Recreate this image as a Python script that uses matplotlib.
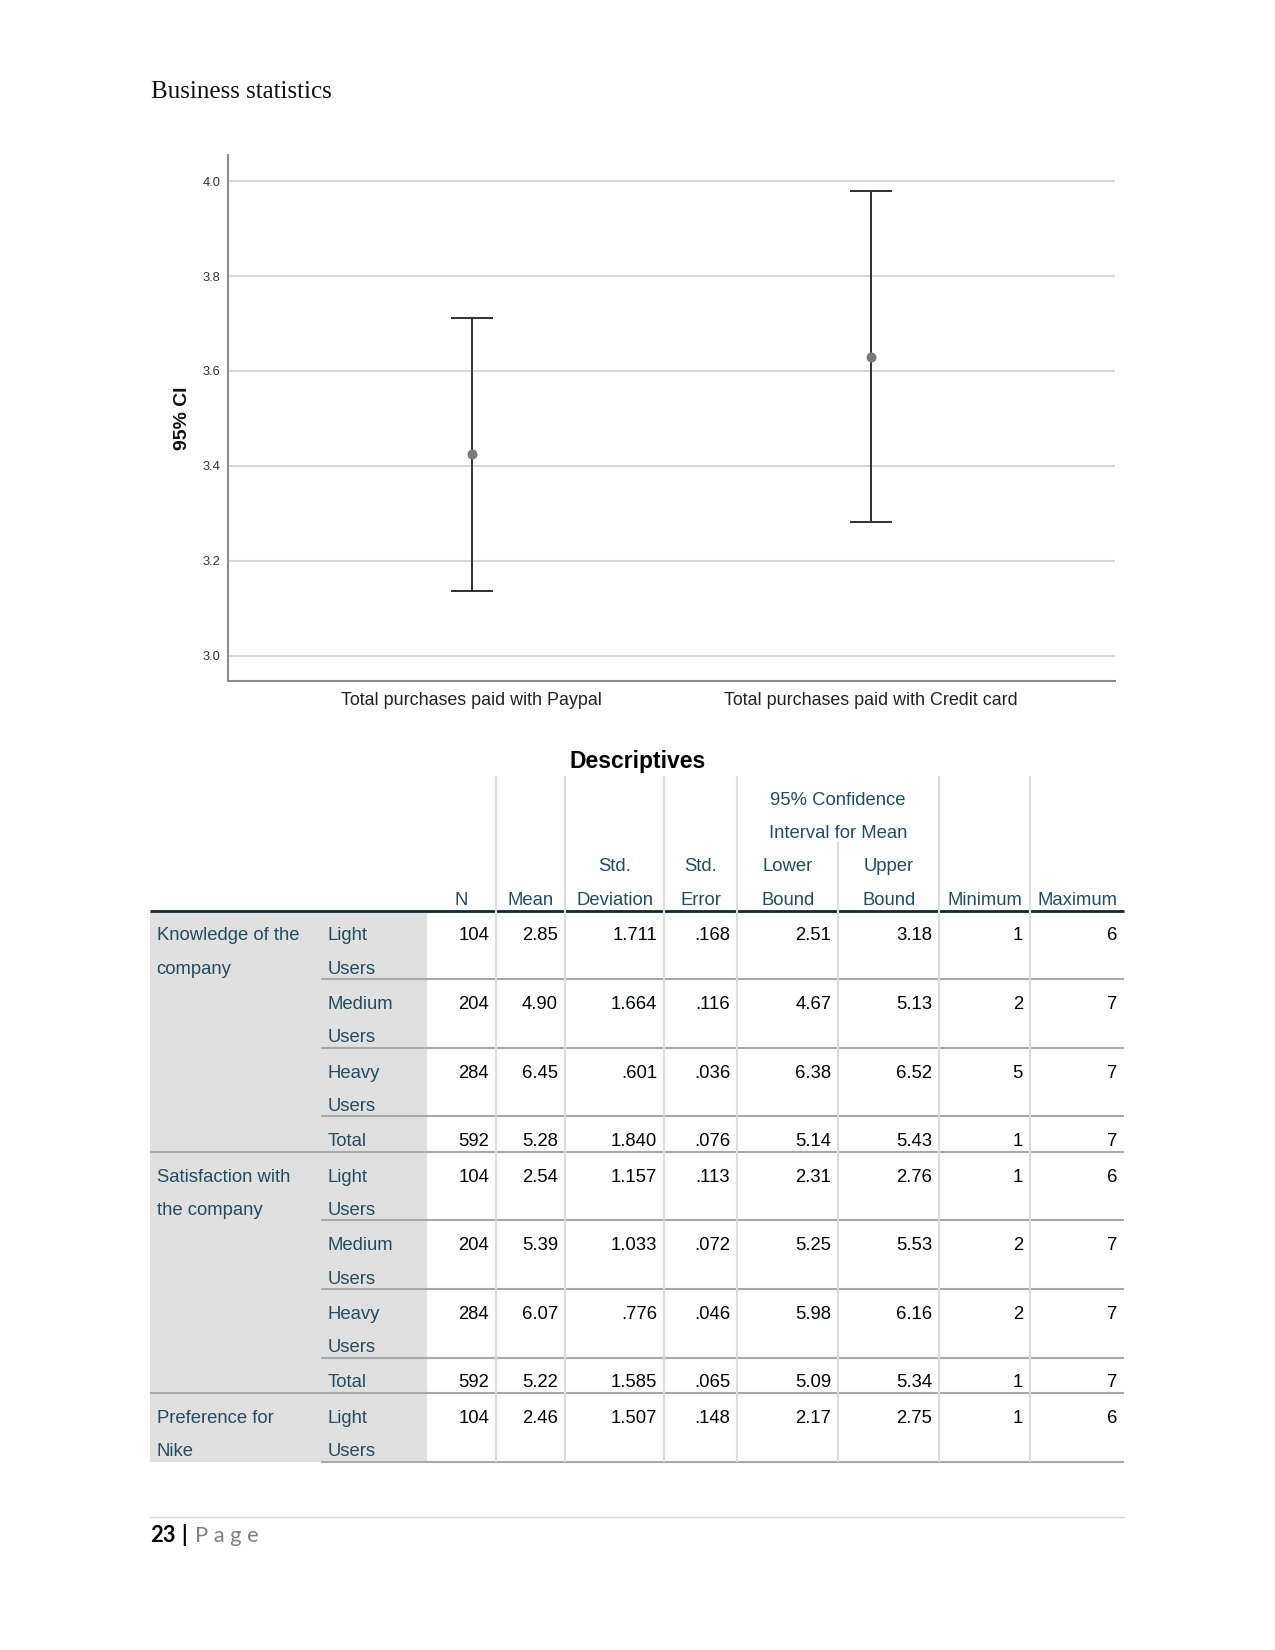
import matplotlib
matplotlib.use("Agg")
import matplotlib.pyplot as plt
from matplotlib.patches import Rectangle

# ---------------- data ----------------
categories = ["Total purchases paid with Paypal", "Total purchases paid with Credit card"]
ci_mean = [3.424, 3.630]
ci_lower = [3.137, 3.281]
ci_upper = [3.711, 3.980]
y_ticks = [3.0, 3.2, 3.4, 3.6, 3.8, 4.0]

measures = ["Knowledge of the\ncompany", "Satisfaction with\nthe company", "Preference for\nNike"]
row_measure = [0, 0, 0, 0, 1, 1, 1, 1, 2]
row_groups = ["Light\nUsers", "Medium\nUsers", "Heavy\nUsers", "Total",
              "Light\nUsers", "Medium\nUsers", "Heavy\nUsers", "Total",
              "Light\nUsers"]
n_vals = [104, 204, 284, 592, 104, 204, 284, 592, 104]
mean_vals = [2.85, 4.90, 6.45, 5.28, 2.54, 5.39, 6.07, 5.22, 2.46]
std_vals = [1.711, 1.664, 0.601, 1.840, 1.157, 1.033, 0.776, 1.585, 1.507]
se_vals = [0.168, 0.116, 0.036, 0.076, 0.113, 0.072, 0.046, 0.065, 0.148]
lower_vals = [2.51, 4.67, 6.38, 5.14, 2.31, 5.25, 5.98, 5.09, 2.17]
upper_vals = [3.18, 5.13, 6.52, 5.43, 2.76, 5.53, 6.16, 5.34, 2.75]
min_vals = [1, 2, 5, 1, 1, 2, 2, 1, 1]
max_vals = [6, 7, 7, 7, 6, 7, 7, 7, 6]

col_headers = [["N"], ["Mean"], ["Std.", "Deviation"], ["Std.", "Error"],
               ["Lower", "Bound"], ["Upper", "Bound"], ["Minimum"], ["Maximum"]]

# ---------------- figure ----------------
W, H = 1275, 1650
DPI = 150
fig = plt.figure(figsize=(W / DPI, H / DPI), dpi=DPI)
fig.patch.set_facecolor("white")

SANS = ["Liberation Sans", "DejaVu Sans"]

# ---------------- chart ----------------
ax_l, ax_r, ax_t, ax_b = 227.7, 1115.0, 155.0, 681.3
ax = fig.add_axes([ax_l / W, 1 - ax_b / H, (ax_r - ax_l) / W, (ax_b - ax_t) / H])
x = list(range(len(categories)))
ax.set_xlim(-0.611, 1.611)
ax.set_ylim(2.946, 4.055)
ax.set_yticks(y_ticks)
ax.set_yticklabels([f"{v:.1f}" for v in y_ticks], family=SANS, fontsize=6.2, color="#333333")
ax.set_xticks(x)
ax.set_xticklabels(categories, family=SANS, fontsize=8.6, color="#222222")
ax.tick_params(axis="both", length=0)
ax.tick_params(axis="y", pad=3.5)
ax.tick_params(axis="x", pad=5)
ax.grid(axis="y", color="#d6d6d6", lw=1.0)
ax.set_axisbelow(True)
for s in ["top", "right"]:
    ax.spines[s].set_visible(False)
for s in ["left", "bottom"]:
    ax.spines[s].set_color("#8c8c8c")
    ax.spines[s].set_linewidth(1.0)
yerr = [[m - lo for m, lo in zip(ci_mean, ci_lower)], [u - m for m, u in zip(ci_mean, ci_upper)]]
ax.errorbar(x, ci_mean, yerr=yerr, fmt="none", ecolor="#333333", elinewidth=0.95,
            capsize=10.1, capthick=0.95, zorder=3)
ax.plot(x, ci_mean, "o", color="#7a7a7a", ms=3.8, zorder=4)
ax.set_ylabel("95% CI", family=SANS, fontsize=9.3, fontweight="bold", color="#111111")
ax.yaxis.set_label_coords((191.4 - ax_l) / (ax_r - ax_l), 0.5)

# ---------------- page overlay (pixel coordinates) ----------------
pa = fig.add_axes([0, 0, 1, 1], zorder=-1)
pa.set_xlim(0, W)
pa.set_ylim(H, 0)
pa.axis("off")
pa.patch.set_alpha(0)

pa.text(151, 98.3, "Business statistics", family=["Liberation Serif", "DejaVu Serif"],
        fontsize=12, color="#111111", va="baseline", ha="left")

LABEL = "#264a60"
VAL = "#010205"
FS = 8.9

pa.text(637.3, 761.6, "Descriptives", family=SANS, fontsize=11, fontweight="bold",
        color="#000000", ha="center", va="center")

tab_l, tab_r = 150.0, 1124.3
sub_l = 321.0
gray_r = 426.7
cols = [426.7, 496.0, 565.0, 664.3, 737.3, 838.3, 939.0, 1030.0, 1124.3]
head_line = 910.5
head_top = 776.0
line_gap = 33.2
base_off = 6.4

# header text
for i, lines in enumerate(col_headers):
    cx = (cols[i] + cols[i + 1]) / 2
    for j, t in enumerate(reversed(lines)):
        yc = 898.3 - j * line_gap
        pa.text(cx, yc + base_off, t, family=SANS, fontsize=FS, color=LABEL,
                ha="center", va="baseline")
ci_cx = (cols[4] + cols[6]) / 2
pa.text(ci_cx, 798.9 + base_off, "95% Confidence", family=SANS, fontsize=FS, color=LABEL,
        ha="center", va="baseline")
pa.text(ci_cx, 832.0 + base_off, "Interval for Mean", family=SANS, fontsize=FS, color=LABEL,
        ha="center", va="baseline")

# rows
two_h, one_h = 68.6, 35.6
tops = []
y = head_line
for g in row_groups:
    tops.append(y)
    y += two_h if "\n" in g else one_h
bottom = y

pa.add_patch(Rectangle((tab_l, head_line), gray_r - tab_l, bottom - head_line,
                       facecolor="#e0e0e0", edgecolor="none", zorder=1))


def fmt(v, nd):
    s = f"{v:.{nd}f}"
    if s.startswith("0."):
        s = s[1:]
    return s


columns_vals = [
    [str(v) for v in n_vals],
    [fmt(v, 2) for v in mean_vals],
    [fmt(v, 3) for v in std_vals],
    [fmt(v, 3) for v in se_vals],
    [fmt(v, 2) for v in lower_vals],
    [fmt(v, 2) for v in upper_vals],
    [str(v) for v in min_vals],
    [str(v) for v in max_vals],
]

first_off = 23.4
for r, g in enumerate(row_groups):
    top = tops[r]
    for k, t in enumerate(g.split("\n")):
        pa.text(327.7, top + first_off + k * line_gap + base_off, t, family=SANS, fontsize=FS,
                color=LABEL, ha="left", va="baseline", zorder=3)
    for c in range(len(columns_vals)):
        pa.text(cols[c + 1] - 7.0, top + first_off + base_off, columns_vals[c][r], family=SANS,
                fontsize=FS, color=VAL, ha="right", va="baseline", zorder=3)
    if r == 0 or row_measure[r] != row_measure[r - 1]:
        for k, t in enumerate(measures[row_measure[r]].split("\n")):
            pa.text(156.7, top + first_off + k * line_gap + base_off, t, family=SANS, fontsize=FS,
                    color=LABEL, ha="left", va="baseline", zorder=3)

# horizontal separators
for r in range(len(row_groups)):
    yb = tops[r + 1] if r + 1 < len(tops) else bottom
    last = r + 1 >= len(row_groups)
    full = (not last) and row_measure[r + 1] != row_measure[r]
    x0 = tab_l if full else sub_l
    pa.plot([x0, tab_r], [yb, yb], color="#a9a9a9", lw=1.0, zorder=4, solid_capstyle="butt")

# header line
pa.plot([tab_l, tab_r], [head_line, head_line], color="#152935", lw=1.35, zorder=4,
        solid_capstyle="butt")

# vertical lines
for i, cx in enumerate(cols[1:-1]):
    y0 = 841.7 if i == 4 else head_top
    pa.plot([cx, cx], [y0, bottom], color="#dcdcdc", lw=1.0, zorder=5, solid_capstyle="butt")

# footer
pa.plot([tab_l, tab_r], [1516.7, 1516.7], color="#d9d9d9", lw=0.7, zorder=2)
FOOT = ["Lato", "DejaVu Sans"]
pa.text(150, 1541.5, "23", family=FOOT, fontsize=10.5, fontweight="bold", color="#000000",
        ha="left", va="baseline")
pa.text(181, 1541.5, "|", family=FOOT, fontsize=10.5, fontweight="bold", color="#000000",
        ha="left", va="baseline")
pa.text(195, 1541.5, "P a g e", family=FOOT, fontsize=10.5, color="#7f7f7f",
        ha="left", va="baseline")

fig.savefig("out.png", dpi=DPI, facecolor="white")
